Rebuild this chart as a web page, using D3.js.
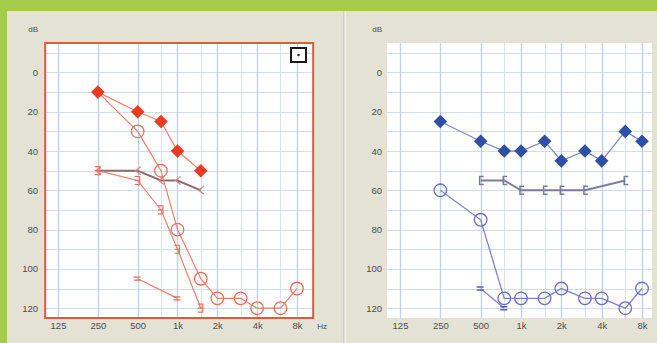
<!DOCTYPE html>
<html>
<head>
<meta charset="utf-8">
<script src="https://cdn.jsdelivr.net/npm/d3@7"></script>
<style>
  html, body { margin: 0; padding: 0; background: #a6ca4c; }
  svg { display: block; }
  text { font-family: "Liberation Sans", Arial, sans-serif; font-size: 9px; fill: #4e4e4e; }
</style>
</head>
<body>
<svg id="chart" width="657" height="343"></svg>
<script>
// Frequency axis
const freqTicks = [125, 250, 500, 1000, 2000, 4000, 8000];
const freqLabels = ["125", "250", "500", "1k", "2k", "4k", "8k"];
const halfOctaves = [750, 1500, 3000, 6000];
// Level axis (dB HL, increasing downward)
const dbTicks = [0, 20, 40, 60, 80, 100, 120];
const dbGrid = [-10, 0, 10, 20, 30, 40, 50, 60, 70, 80, 90, 100, 110, 120];

// Right ear (red)
const rDiamondFreq = [250, 500, 750, 1000, 1500];
const rDiamondDb = [10, 20, 25, 40, 50];
const rCircleFreq = [250, 500, 750, 1000, 1500, 2000, 3000, 4000, 6000, 8000];
const rCircleDb = [10, 30, 50, 80, 105, 115, 115, 120, 120, 110];
const rMaskedFreq = [250, 500, 750, 1000, 1500];
const rMaskedDb = [50, 55, 70, 90, 120];
const rBoneFreq = [250, 500, 750, 1000, 1500];
const rBoneDb = [50, 50, 55, 55, 60];
const rDashFreq = [500, 1000];
const rDashDb = [105, 115];

// Left ear (blue)
const lDiamondFreq = [250, 500, 750, 1000, 1500, 2000, 3000, 4000, 6000, 8000];
const lDiamondDb = [25, 35, 40, 40, 35, 45, 40, 45, 30, 35];
const lCircleFreq = [250, 500, 750, 1000, 1500, 2000, 3000, 4000, 6000, 8000];
const lCircleDb = [60, 75, 115, 115, 115, 110, 115, 115, 120, 110];
const lBoneFreq = [500, 750, 1000, 1500, 2000, 3000, 6000];
const lBoneDb = [55, 55, 60, 60, 60, 60, 55];
const lDashFreq = [500, 750];
const lDashDb = [110, 120];

const zip = (f, d) => f.map((v, i) => ({ f: v, db: d[i] }));

const svg = d3.select("#chart");

// Window background
svg.append("rect").attr("x", 7).attr("y", 11).attr("width", 650).attr("height", 332).attr("fill", "#e4e1d5");
svg.append("line").attr("x1", 343.5).attr("x2", 343.5).attr("y1", 11).attr("y2", 343)
  .attr("stroke", "#d2cfc2").attr("stroke-width", 1);
svg.append("line").attr("x1", 345.5).attr("x2", 345.5).attr("y1", 11).attr("y2", 343)
  .attr("stroke", "#efede6").attr("stroke-width", 1);

const y = d3.scaleLinear().domain([-15, 125]).range([43, 318]);

function panel(opts) {
  const x = d3.scaleLog().domain([125, 8000]).range([opts.x125, opts.x8k]);
  const left = x(100), right = Math.min(x(10600), opts.maxRight);
  const g = svg.append("g");
  const clipId = "clip" + opts.id;
  g.append("clipPath").attr("id", clipId)
    .append("rect").attr("x", left).attr("y", y(-15)).attr("width", right - left).attr("height", y(125) - y(-15));

  g.append("rect").attr("x", left).attr("y", y(-15)).attr("width", right - left)
    .attr("height", y(125) - y(-15)).attr("fill", "#ffffff");

  const grid = g.append("g").attr("clip-path", `url(#${clipId})`);
  grid.selectAll("line.h").data(dbGrid).join("line")
    .attr("x1", left).attr("x2", right)
    .attr("y1", d => Math.round(y(d)) + 0.5).attr("y2", d => Math.round(y(d)) + 0.5)
    .attr("stroke", "#d0ddec").attr("stroke-width", 1);
  grid.selectAll("line.v").data(halfOctaves).join("line")
    .attr("y1", y(-15)).attr("y2", y(125))
    .attr("x1", d => Math.round(x(d)) + 0.5).attr("x2", d => Math.round(x(d)) + 0.5)
    .attr("stroke", "#d8e3ef").attr("stroke-width", 1);
  grid.selectAll("line.o").data(freqTicks).join("line")
    .attr("y1", y(-15)).attr("y2", y(125))
    .attr("x1", d => Math.round(x(d)) + 0.5).attr("x2", d => Math.round(x(d)) + 0.5)
    .attr("stroke", "#c3d3e7").attr("stroke-width", 1.4);

  // Axes labels
  const xAxis = d3.axisBottom(x).tickValues(freqTicks).tickFormat((d, i) => freqLabels[i]).tickSize(0).tickPadding(4);
  const xa = g.append("g").attr("transform", `translate(0,${y(125)})`).call(xAxis);
  xa.select(".domain").remove();
  xa.selectAll("text").style("font-size", "9.5px").attr("fill", "#4e4e4e");

  const yAxis = d3.axisLeft(y).tickValues(dbTicks).tickSize(0).tickPadding(0);
  const ya = g.append("g").attr("transform", `translate(${opts.labelX},0)`).call(yAxis);
  ya.select(".domain").remove();
  ya.selectAll("text").style("font-size", "9.5px").attr("fill", "#4e4e4e");

  g.append("text").attr("x", opts.labelX).attr("y", 32).attr("text-anchor", "end")
    .style("font-size", "8px").text("dB");

  const marks = g.append("g").attr("clip-path", `url(#${clipId})`);
  const line = d3.line().x(d => x(d.f)).y(d => y(d.db));

  opts.draw(marks, x, line);
  return { g, x, left, right };
}

function diamonds(sel, data, x, fill) {
  sel.selectAll(null).data(data).join("path")
    .attr("d", d3.symbol(d3.symbolSquare, 92)())
    .attr("transform", d => `translate(${x(d.f)},${y(d.db)}) rotate(45)`)
    .attr("fill", fill);
}
function circles(sel, data, x, stroke) {
  sel.selectAll(null).data(data).join("circle")
    .attr("cx", d => x(d.f)).attr("cy", d => y(d.db)).attr("r", 6.3)
    .attr("fill", "none").attr("stroke", stroke).attr("stroke-width", 1.3);
}
function glyphs(sel, data, x, path, stroke, w) {
  sel.selectAll(null).data(data).join("path")
    .attr("d", path)
    .attr("transform", d => `translate(${x(d.f)},${y(d.db)})`)
    .attr("fill", "none").attr("stroke", stroke).attr("stroke-width", w || 1.3);
}
const bracketPath = "M3,-4 L-1,-4 L-1,4 L3,4";
const anglePath = "M3,-4 L-2,0 L3,4";
const maskedPath = "M-3,-4 L2,-4 L2,4 L-3,4 M-3,0 L2,0";
const dashPath = "M-4,-1.5 L3,-1.5 M-4,1.5 L3,1.5";

// Right ear panel
const rp = panel({
  id: "R", x125: 58, x8k: 297, maxRight: 9999, labelX: 38,
  draw(m, x, line) {
    const red = "#e8806f";
    m.append("path").datum(zip(rBoneFreq, rBoneDb)).attr("d", line)
      .attr("fill", "none").attr("stroke", "#8e6b68").attr("stroke-width", 2);
    glyphs(m, zip(rBoneFreq, rBoneDb), x, anglePath, "#c98a80", 1.3);
    m.append("path").datum(zip(rMaskedFreq, rMaskedDb)).attr("d", line)
      .attr("fill", "none").attr("stroke", red).attr("stroke-width", 1.2);
    glyphs(m, zip(rMaskedFreq, rMaskedDb), x, maskedPath, "#e0705f", 1.2);
    m.append("path").datum(zip(rCircleFreq, rCircleDb)).attr("d", line)
      .attr("fill", "none").attr("stroke", red).attr("stroke-width", 1.2);
    circles(m, zip(rCircleFreq, rCircleDb).slice(1), x, "#e8705c");
    m.append("path").datum(zip(rDashFreq, rDashDb)).attr("d", line)
      .attr("fill", "none").attr("stroke", red).attr("stroke-width", 1.3);
    glyphs(m, zip(rDashFreq, rDashDb), x, dashPath, "#e0705f", 1.3);
    m.append("path").datum(zip(rDiamondFreq, rDiamondDb)).attr("d", line)
      .attr("fill", "none").attr("stroke", red).attr("stroke-width", 1.2);
    diamonds(m, zip(rDiamondFreq, rDiamondDb), x, "#ea3a22");
  }
});
// Red frame and corner box
rp.g.append("rect").attr("x", rp.left).attr("y", y(-15)).attr("width", rp.right - rp.left)
  .attr("height", y(125) - y(-15)).attr("fill", "none").attr("stroke", "#e8553a").attr("stroke-width", 2);
rp.g.append("text").attr("x", rp.right + 9).attr("y", y(125) + 11).attr("text-anchor", "middle")
  .style("font-size", "8px").text("Hz");
rp.g.append("rect").attr("x", 291).attr("y", 48).attr("width", 15).attr("height", 14)
  .attr("fill", "#ffffff").attr("stroke", "#1a1a1a").attr("stroke-width", 2);
rp.g.append("circle").attr("cx", 298.5).attr("cy", 55).attr("r", 1.3).attr("fill", "#333");

// Left ear panel
panel({
  id: "L", x125: 400, x8k: 642, maxRight: 652, labelX: 382,
  draw(m, x, line) {
    const blue = "#7e84c6";
    m.append("path").datum(zip(lBoneFreq, lBoneDb)).attr("d", line)
      .attr("fill", "none").attr("stroke", "#7a7d98").attr("stroke-width", 2);
    glyphs(m, zip(lBoneFreq, lBoneDb), x, bracketPath, "#7a7d98", 1.5);
    m.append("path").datum(zip(lCircleFreq, lCircleDb)).attr("d", line)
      .attr("fill", "none").attr("stroke", blue).attr("stroke-width", 1.3);
    circles(m, zip(lCircleFreq, lCircleDb), x, "#6a6fc4");
    m.append("path").datum(zip(lDashFreq, lDashDb)).attr("d", line)
      .attr("fill", "none").attr("stroke", blue).attr("stroke-width", 1.3);
    glyphs(m, zip(lDashFreq, lDashDb), x, dashPath, "#5a5fb0", 1.5);
    m.append("path").datum(zip(lDiamondFreq, lDiamondDb)).attr("d", line)
      .attr("fill", "none").attr("stroke", blue).attr("stroke-width", 1.2);
    diamonds(m, zip(lDiamondFreq, lDiamondDb), x, "#2d4fa6");
  }
});
</script>
</body>
</html>
